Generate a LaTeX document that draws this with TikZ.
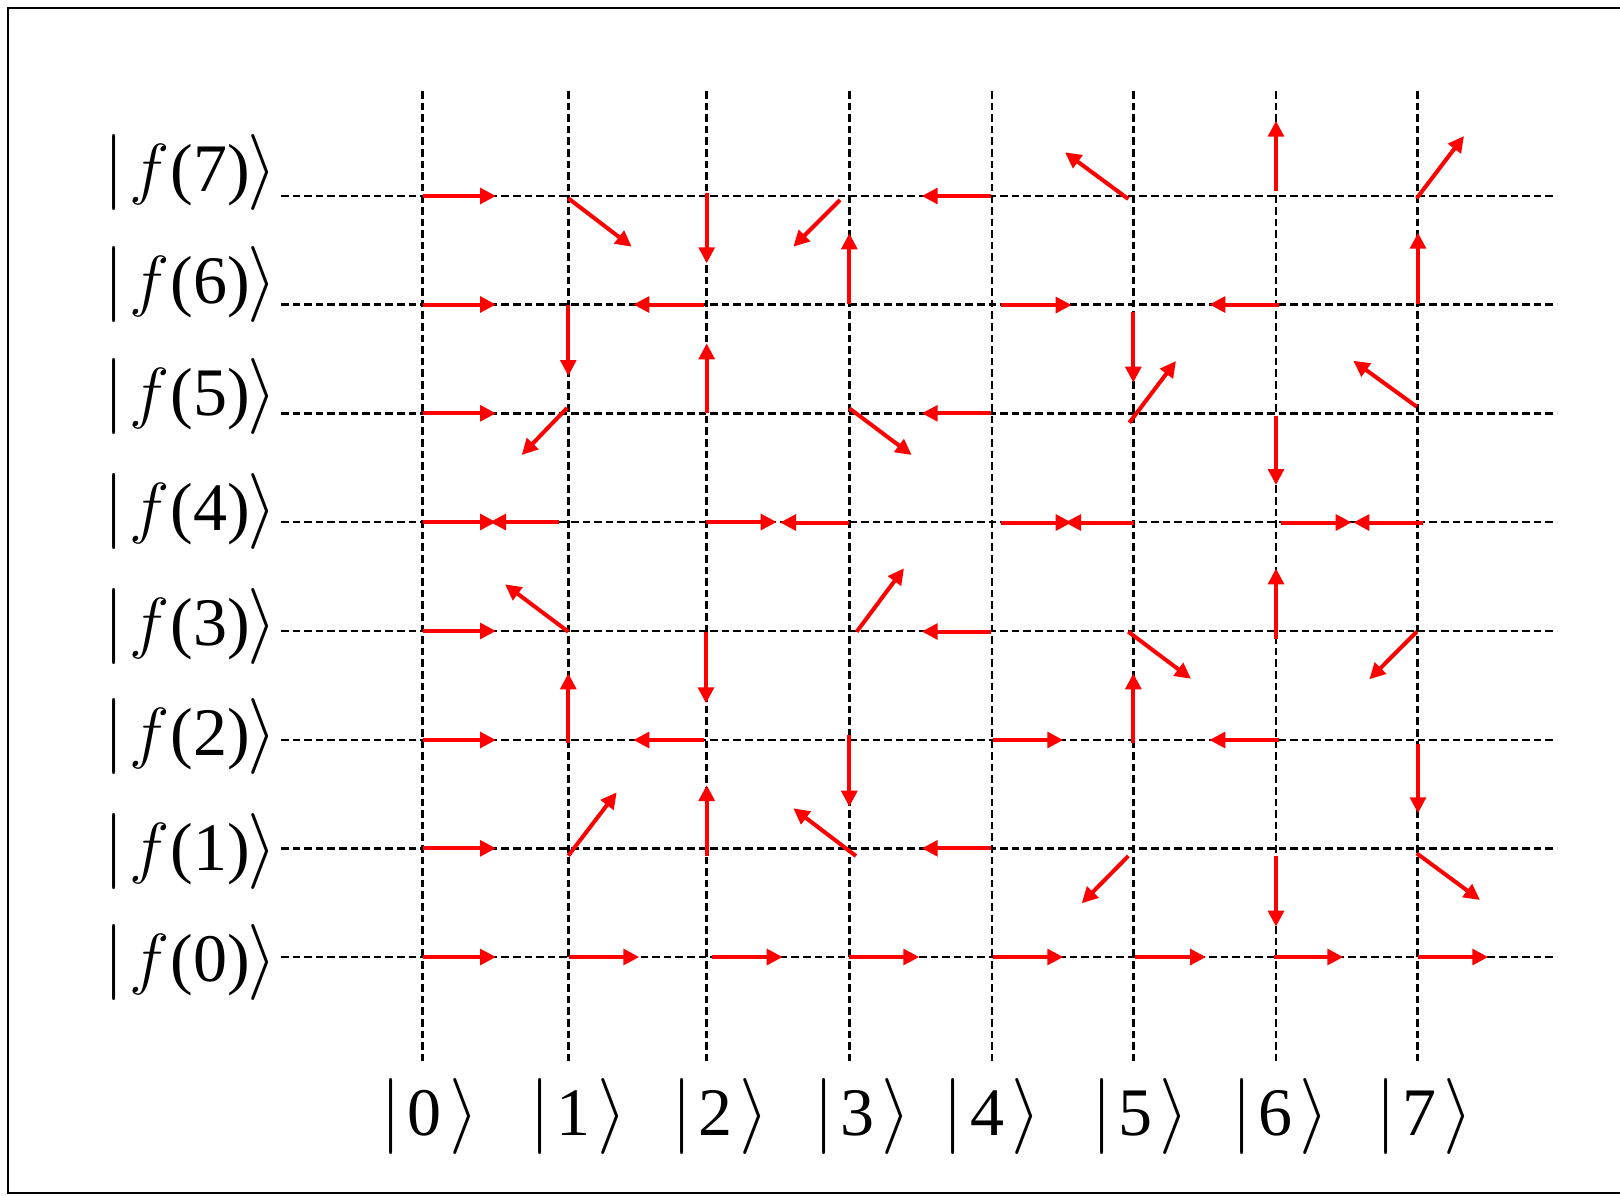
\documentclass[tikz,border=0pt]{standalone}
\usepackage{fix-cm}
\usepackage{amsmath}
\usepackage{fontspec}
\setmainfont{Liberation Serif}
\usetikzlibrary{arrows.meta}
\newcommand{\kbar}{\makebox[16pt][c]{\fontsize{38}{40}\selectfont$\vert$}}
\newcommand{\kang}{\makebox[7.5pt][c]{\fontsize{38}{40}\selectfont$\rangle$}}
\newcommand{\flab}[1]{\kbar\hspace{0pt}$f$\hspace{0.5pt}(#1)\hspace{2.5pt}\kang}
\newcommand{\xket}[1]{\kbar\hspace{0.25pt}#1\hspace{7.25pt}\kang}
\begin{document}
\begin{tikzpicture}[x=0.5pt,y=-0.5pt,
  gridline/.style={line width=1.3pt, dash pattern=on 3.8pt off 2pt},
  vec/.style={red, line width=2pt, -{Triangle[length=8pt,width=7.8pt]}},
  lab/.style={inner sep=0pt, anchor=base west, font=\fontsize{34}{40}\selectfont}]
\useasboundingbox (0,0) rectangle (1620,1195);
\draw[line width=1pt] (8.3,8.3) rectangle (1700,1193);
% grid
\foreach \y in {196,304.5,413.3,522,631,740,848.3,957}
  \draw[gridline] (281,\y) -- (1557,\y);
\foreach \x in {422.6,568.3,706.7,849.3,991.9,1133.4,1276,1417.6}
  \draw[gridline] (\x,91) -- (\x,1064);
% row 7
\draw[vec] (422.7,196)--(496,196);
\draw[vec] (568.3,198.3)--(631.7,246.7);
\draw[vec] (706.7,192.7)--(706.7,263.3);
\draw[vec] (840,200)--(793.3,246.7);
\draw[vec] (991.3,196)--(921.7,196);
\draw[vec] (1128.3,199)--(1065,152.3);
\draw[vec] (1276,190.7)--(1276,120.7);
\draw[vec] (1416.7,198.3)--(1464,136);
% row 6
\draw[vec] (422.7,304.5)--(496,304.5);
\draw[vec] (568.3,304.5)--(568.3,376);
\draw[vec] (704,304.5)--(633.3,304.5);
\draw[vec] (849.3,304)--(849.3,233.3);
\draw[vec] (1000.7,305)--(1071.7,305);
\draw[vec] (1133.3,311.7)--(1133.3,382.7);
\draw[vec] (1279.3,304.5)--(1209.3,304.5);
\draw[vec] (1418,304)--(1418,232.7);
% row 5
\draw[vec] (422.7,413.3)--(496,413.3);
\draw[vec] (567,408)--(521.7,455);
\draw[vec] (706.7,413.3)--(706.7,343.3);
\draw[vec] (849.3,408.3)--(911.7,455);
\draw[vec] (991.3,413.3)--(921.7,413.3);
\draw[vec] (1129.3,422.7)--(1176,361);
\draw[vec] (1276,416)--(1276,485);
\draw[vec] (1416.7,406.7)--(1353.3,360.7);
% row 4
\draw[vec] (422.7,522)--(496,522);
\draw[vec] (559.3,522)--(490,522);
\draw[vec] (706,522)--(776.7,522);
\draw[vec] (849.3,522.5)--(780,522.5);
\draw[vec] (1000.7,522.5)--(1071.7,522.5);
\draw[vec] (1134.3,522.5)--(1065,522.5);
\draw[vec] (1280.7,522.5)--(1351.7,522.5);
\draw[vec] (1423.3,522.5)--(1353.3,522.5);
% row 3
\draw[vec] (422.7,631)--(496,631);
\draw[vec] (568.3,631.7)--(505,584.3);
\draw[vec] (706,632)--(706,703.3);
\draw[vec] (856.7,631.7)--(904,568.3);
\draw[vec] (991.3,631.5)--(921.7,631.5);
\draw[vec] (1128.3,631.7)--(1191,678.8);
\draw[vec] (1276,639.3)--(1276,568.3);
\draw[vec] (1416.7,631.7)--(1369.3,679.3);
% row 2
\draw[vec] (422.7,740)--(496,740);
\draw[vec] (568.3,743.3)--(568.3,673.3);
\draw[vec] (704,740)--(633.3,740);
\draw[vec] (849.3,735.3)--(849.3,806.7);
\draw[vec] (992.7,740)--(1063.3,740);
\draw[vec] (1133.3,743.3)--(1133.3,673.3);
\draw[vec] (1279.3,740)--(1209.3,740);
\draw[vec] (1418,744)--(1418,813.3);
% row 1
\draw[vec] (422.7,848.3)--(496,848.3);
\draw[vec] (568.3,855.7)--(616.7,792.3);
\draw[vec] (706.7,855.7)--(706.7,785);
\draw[vec] (856,856)--(793.3,808.3);
\draw[vec] (991.3,848.3)--(921.7,848.3);
\draw[vec] (1128.3,856)--(1081.7,903.3);
\draw[vec] (1276,856)--(1276,926.7);
\draw[vec] (1416.7,853.3)--(1480,900);
% row 0
\draw[vec] (422.7,957)--(496,957);
\draw[vec] (569.3,957)--(639.3,957);
\draw[vec] (712.3,957)--(782.7,957);
\draw[vec] (849.3,957)--(919.3,957);
\draw[vec] (992.7,957)--(1063.3,957);
\draw[vec] (1135,957)--(1206,957);
\draw[vec] (1274,957)--(1343.3,957);
\draw[vec] (1418,957)--(1488.3,957);
% left labels
\node[lab] (f7) at (97.5,191.5) {\flab{7}};
\node[lab] (f6) at (97.5,303) {\flab{6}};
\node[lab] (f5) at (97.5,415) {\flab{5}};
\node[lab] (f4) at (97.5,530) {\flab{4}};
\node[lab] (f3) at (97.5,645) {\flab{3}};
\node[lab] (f2) at (97.5,755) {\flab{2}};
\node[lab] (f1) at (97.5,870) {\flab{1}};
\node[lab] (f0) at (97.5,981) {\flab{0}};
% bottom kets
\node[lab] (k0) at (375.0,1135.5) {\xket{0}};
\node[lab] (k1) at (523.8,1135.5) {\xket{1}};
\node[lab] (k2) at (665.8,1135.5) {\xket{2}};
\node[lab] (k3) at (807.4,1135.5) {\xket{3}};
\node[lab] (k4) at (937.1,1135.5) {\xket{4}};
\node[lab] (k5) at (1085.3,1135.5) {\xket{5}};
\node[lab] (k6) at (1225.3,1135.5) {\xket{6}};
\node[lab] (k7) at (1369.4,1135.5) {\xket{7}};
\end{tikzpicture}
\end{document}
